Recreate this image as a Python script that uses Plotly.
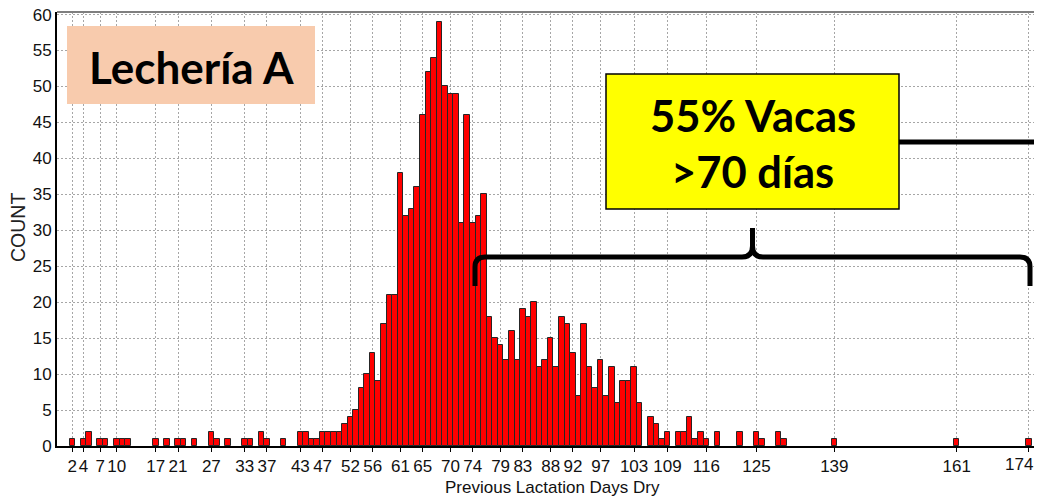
import plotly.graph_objects as go

# ---- data ----
days = [2, 4, 5, 7, 8, 10, 11, 12, 17, 19, 21, 22, 24, 27, 28, 30, 33, 34, 36, 37, 40,
        43, 44, 45, 46, 47, 48, 49, 50, 51, 52, 53, 54, 55, 56, 57, 58, 59, 60,
        61, 62, 63, 64, 65, 66, 67, 68, 69, 70, 71, 72, 73, 74, 75, 76, 77, 78, 79, 80,
        81, 82, 83, 84, 85, 86, 87, 88, 89, 90, 91, 92, 93, 94, 95, 96, 97, 98, 99, 100,
        101, 102, 103, 104, 106, 107, 108, 109, 111, 112, 113, 114, 115, 116, 118,
        122, 125, 126, 129, 130, 139, 161, 174]
counts = [1, 1, 2, 1, 1, 1, 1, 1, 1, 1, 1, 1, 1, 2, 1, 1, 1, 1, 2, 1, 1,
          2, 2, 1, 1, 2, 2, 2, 2, 3, 4, 5, 8, 10, 13, 9, 17, 21, 21,
          38, 32, 33, 36, 46, 52, 54, 59, 50, 49, 49, 31, 46, 31, 32, 35, 18, 15, 14, 12,
          16, 12, 19, 18, 20, 11, 12, 15, 11, 18, 17, 13, 7, 17, 11, 8, 12, 7, 11, 6,
          9, 9, 11, 6, 4, 3, 1, 2, 2, 2, 4, 1, 2, 1, 2,
          2, 2, 1, 2, 1, 1, 1, 1]
x_ticks = [2, 4, 7, 10, 17, 21, 27, 33, 37, 43, 47, 52, 56, 61, 65, 70, 74, 79, 83,
           88, 92, 97, 103, 109, 116, 125, 139, 161, 174]
y_ticks = list(range(0, 61, 5))

title_box = "Lechería A"
note_lines = ["55% Vacas", ">70 días"]
x_title = "Previous Lactation Days Dry"
y_title = "COUNT"

# ---- layout geometry (page body has an 8px default margin) ----
OFF = 8
W, H = 1042 - OFF, 503 - OFF
ML, MR, MT = 57 - OFF, 0, 12 - OFF
MB = H - MT - 434
XR = [-0.755, 176.34]
YR = [0, 60.36]
PW, PH = W - ML - MR, H - MT - MB
VIS_R = 1034  # right edge of the visible page area


def X(px):
    return XR[0] + (px - OFF - ML) / PW * (XR[1] - XR[0])


def Y(py):
    return YR[1] - (py - OFF - MT) / PH * (YR[1] - YR[0])


def PX(px):
    return (px - OFF - ML) / PW


def PY(py):
    return (H - MB - (py - OFF)) / PH


fig = go.Figure(go.Bar(
    x=days, y=counts, width=1,
    marker=dict(color="#FF0000", line=dict(color="#262626", width=1)),
    hoverinfo="x+y",
))

tick_font = dict(family="Liberation Sans, Arial", size=17, color="#111")
# the last tick label sits on the clipped right edge: draw it as an annotation instead
tick_text = [str(t) for t in x_ticks[:-1]] + [""]

grid = dict(showgrid=True, gridcolor="#a6a6a6", gridwidth=1, griddash="2px,2px")
fig.update_xaxes(range=XR, tickmode="array", tickvals=x_ticks, ticktext=tick_text,
                 tickangle=0, ticks="outside", ticklen=4, tickcolor="#000", automargin=False,
                 ticklabeloverflow="allow",
                 showline=True, linecolor="#000", linewidth=2, zeroline=False,
                 tickfont=tick_font, **grid)
fig.update_yaxes(range=YR, tickmode="array", tickvals=y_ticks, ticks="", automargin=False,
                 ticklabeloverflow="allow",
                 showline=True, linecolor="#000", linewidth=2, zeroline=False,
                 tickfont=tick_font, **grid)

shapes = []
# top frame line
shapes.append(dict(type="line", xref="paper", yref="paper", x0=0, x1=1, y0=1, y1=1,
                   line=dict(color="#7f7f7f", width=2)))
# peach title box
shapes.append(dict(type="rect", xref="x", yref="y", x0=X(67), x1=X(315), y0=Y(104), y1=Y(26),
                   fillcolor="#F8CBAD", line=dict(width=0), layer="above"))
# yellow note box
shapes.append(dict(type="rect", xref="x", yref="y", x0=X(606), x1=X(899), y0=Y(209), y1=Y(74),
                   fillcolor="#FFFF00", line=dict(color="#000", width=1.5), layer="above"))
# connector line
shapes.append(dict(type="line", xref="x", yref="y", x0=X(899), x1=X(1042), y0=Y(142), y1=Y(142),
                   line=dict(color="#000", width=5), layer="above"))


def P(px, py):
    return f"{X(px):.4f},{Y(py):.4f}"


brace = (f"M {P(475, 286)} L {P(475, 267)} Q {P(475, 257)} {P(485, 257)} "
         f"L {P(742, 257)} Q {P(752.5, 257)} {P(752.5, 246)} L {P(752.5, 228)} "
         f"M {P(752.5, 246)} Q {P(752.5, 257)} {P(763, 257)} "
         f"L {P(1020, 257)} Q {P(1030, 257)} {P(1030, 267)} L {P(1030, 286)}")
shapes.append(dict(type="path", xref="x", yref="y", path=brace,
                   line=dict(color="#000", width=5), layer="above"))
fig.update_layout(shapes=shapes)

annos = []
annos.append(dict(xref="x", yref="y", x=X(191), y=Y(67), text=title_box, showarrow=False,
                  xanchor="center", yanchor="middle",
                  font=dict(family="Lato", size=44, color="#000", weight="bold")))
annos.append(dict(xref="x", yref="y", x=X(752.5), y=Y(115), text=note_lines[0], showarrow=False,
                  xanchor="center", yanchor="middle",
                  font=dict(family="Lato", size=43.5, color="#000", weight="bold")))
annos.append(dict(xref="x", yref="y", x=X(752.5), y=Y(171), text=note_lines[1], showarrow=False,
                  xanchor="center", yanchor="middle",
                  font=dict(family="Lato", size=43.5, color="#000", weight="bold")))
annos.append(dict(xref="paper", yref="paper", x=PX(VIS_R), y=PY(464.5), text=str(x_ticks[-1]),
                  showarrow=False, xanchor="right", yanchor="middle", borderpad=0,
                  font=tick_font))
annos.append(dict(xref="paper", yref="paper", x=PX(552), y=PY(488),
                  text=x_title, showarrow=False, xanchor="center", yanchor="middle",
                  font=dict(family="Liberation Sans, Arial", size=17, color="#111")))
annos.append(dict(xref="paper", yref="paper", x=PX(18), y=PY(228),
                  text=y_title, showarrow=False, xanchor="center", yanchor="middle", textangle=-90,
                  font=dict(family="Liberation Sans, Arial", size=19.5, color="#222")))
fig.update_layout(annotations=annos)

fig.update_layout(width=W, height=H, margin=dict(l=ML, r=MR, t=MT, b=MB, pad=0),
                  paper_bgcolor="#fff", plot_bgcolor="#fff", bargap=0, showlegend=False)

fig.write_html("out.html")
